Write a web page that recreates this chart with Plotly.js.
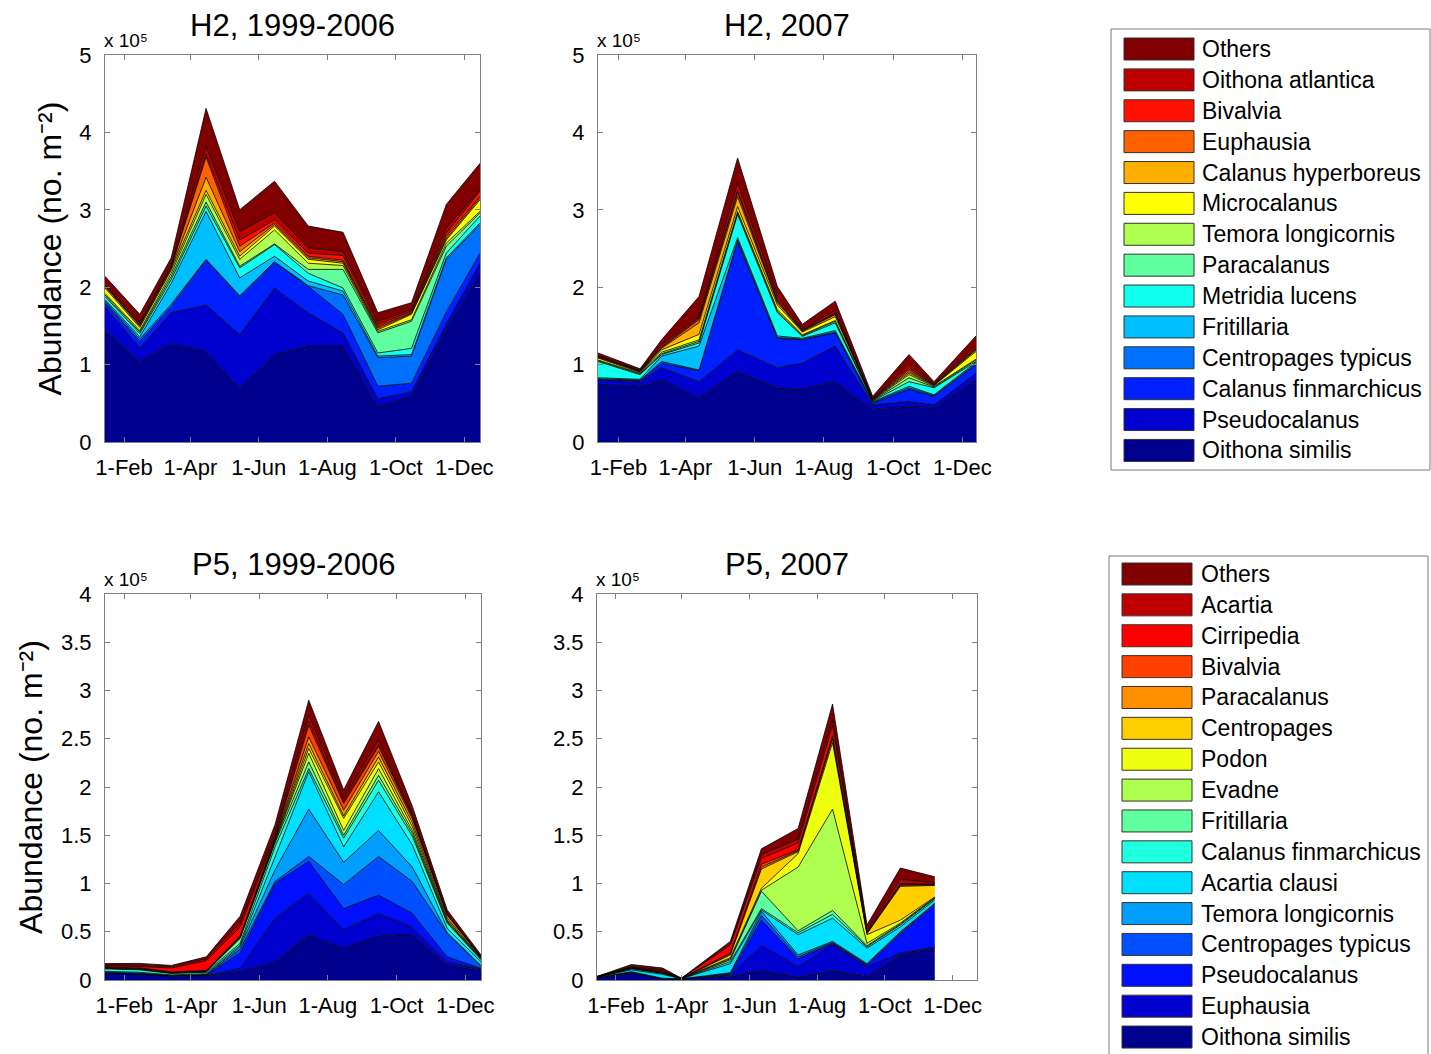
<!DOCTYPE html>
<html><head><meta charset="utf-8">
<script src="https://cdn.plot.ly/plotly-3.0.1.min.js"></script>
<style>html,body{margin:0;padding:0;background:#fff}</style>
</head><body>
<div id="chart" style="width:1431px;height:1054px"></div>
<script>
// ---------------- DATA (abundance in units of 10^5 individuals m^-2) ----------------
// Species order: bottom layer first
const H2_SPECIES = ['Oithona similis','Pseudocalanus','Calanus finmarchicus','Centropages typicus',
  'Fritillaria','Metridia lucens','Paracalanus','Temora longicornis','Microcalanus',
  'Calanus hyperboreus','Euphausia','Bivalvia','Oithona atlantica','Others'];
const P5_SPECIES = ['Oithona similis','Euphausia','Pseudocalanus','Centropages typicus',
  'Temora longicornis','Acartia clausi','Calanus finmarchicus','Fritillaria','Evadne','Podon',
  'Centropages','Paracalanus','Bivalvia','Cirripedia','Acartia','Others'];

// sampling dates as day of year
const DAYS_CLIM = [15, 46, 74, 105, 135, 166, 196, 227, 258, 288, 319, 349];   // monthly climatology 1999-2006
const DAYS_H2_2007 = [14, 51, 70, 103, 137, 172, 194, 223, 256, 288, 310, 347];
const DAYS_P5_2007 = [15, 46, 74, 91, 135, 163, 196, 227, 258, 288, 319];

// month tick labels
const TICK_DAYS = [32, 91, 152, 213, 274, 335];
const TICK_LABELS = ['1-Feb', '1-Apr', '1-Jun', '1-Aug', '1-Oct', '1-Dec'];

// H2, 1999-2006 (rows follow H2_SPECIES)
const H2_CLIM = [
  [1.45, 1.04, 1.27, 1.17, 0.70, 1.13, 1.24, 1.24, 0.46, 0.59, 1.45, 2.18], // Oithona similis
  [0.30, 0.18, 0.40, 0.60, 0.69, 0.86, 0.43, 0.17, 0.10, 0.06, 0.08, 0.13], // Pseudocalanus
  [0.05, 0.08, 0.08, 0.58, 0.49, 0.33, 0.34, 0.24, 0.16, 0.11, 0.15, 0.13], // Calanus finmarchicus
  [0.02, 0.03, 0.03, 0.01, 0.01, 0.01, 0.01, 0.25, 0.37, 0.35, 0.68, 0.37], // Centropages typicus
  [0.02, 0.03, 0.27, 0.62, 0.23, 0.07, 0.06, 0.05, 0.02, 0.02, 0.02, 0.02], // Fritillaria
  [0.04, 0.04, 0.05, 0.07, 0.13, 0.15, 0.10, 0.04, 0.04, 0.08, 0.06, 0.09], // Metridia lucens
  [0.02, 0.02, 0.04, 0.05, 0.02, 0.01, 0.05, 0.24, 0.26, 0.35, 0.09, 0.04], // Paracalanus
  [0.02, 0.02, 0.04, 0.10, 0.09, 0.18, 0.08, 0.05, 0.02, 0.02, 0.04, 0.02], // Temora longicornis
  [0.07, 0.04, 0.04, 0.05, 0.04, 0.05, 0.05, 0.03, 0.02, 0.07, 0.04, 0.15], // Microcalanus
  [0.02, 0.02, 0.02, 0.17, 0.06, 0.02, 0.02, 0.02, 0.02, 0.01, 0.02, 0.02], // Calanus hyperboreus
  [0.01, 0.01, 0.02, 0.26, 0.07, 0.02, 0.02, 0.02, 0.02, 0.01, 0.03, 0.02], // Euphausia
  [0.01, 0.01, 0.01, 0.04, 0.08, 0.04, 0.04, 0.06, 0.03, 0.02, 0.04, 0.07], // Bivalvia
  [0.02, 0.02, 0.03, 0.10, 0.11, 0.09, 0.07, 0.05, 0.04, 0.02, 0.06, 0.02], // Oithona atlantica
  [0.09, 0.11, 0.08, 0.49, 0.28, 0.41, 0.28, 0.25, 0.11, 0.09, 0.31, 0.34]  // Others
];

// H2, 2007
const H2_2007 = [
  [0.74, 0.72, 0.805, 0.57, 0.91, 0.70, 0.685, 0.78, 0.42, 0.46, 0.44, 0.805],
  [0.06, 0.06, 0.155, 0.21, 0.28, 0.26, 0.335, 0.46, 0.06, 0.065, 0.04, 0.085],
  [0.01, 0.01, 0.06, 0.14, 1.40, 0.38, 0.30, 0.17, 0.02, 0.155, 0.11, 0.11],
  [0.005, 0.01, 0.02, 0.01, 0.02, 0.01, 0.01, 0.01, 0.01, 0.02, 0.01, 0.01],
  [0.015, 0.01, 0.07, 0.31, 0.03, 0.02, 0.01, 0.02, 0.01, 0.02, 0.01, 0.02],
  [0.21, 0.06, 0.02, 0.04, 0.30, 0.30, 0.025, 0.10, 0.01, 0.06, 0.09, 0.01],
  [0.01, 0.01, 0.01, 0.02, 0.02, 0.02, 0.01, 0.02, 0.005, 0.05, 0.01, 0.02],
  [0.01, 0.01, 0.02, 0.02, 0.02, 0.02, 0.01, 0.01, 0.005, 0.04, 0.01, 0.01],
  [0.025, 0.01, 0.03, 0.07, 0.06, 0.06, 0.035, 0.05, 0.005, 0.02, 0.01, 0.10],
  [0.01, 0.01, 0.02, 0.15, 0.13, 0.03, 0.01, 0.025, 0.005, 0.02, 0.005, 0.02],
  [0.005, 0.005, 0.01, 0.04, 0.05, 0.02, 0.01, 0.01, 0.003, 0.025, 0.005, 0.01],
  [0.005, 0.005, 0.01, 0.02, 0.02, 0.01, 0.005, 0.01, 0.003, 0.025, 0.005, 0.01],
  [0.01, 0.005, 0.03, 0.02, 0.11, 0.05, 0.015, 0.035, 0.004, 0.04, 0.01, 0.03],
  [0.035, 0.02, 0.06, 0.26, 0.32, 0.13, 0.06, 0.12, 0.03, 0.13, 0.025, 0.13]
];

// P5, 1999-2006 (rows follow P5_SPECIES)
const P5_CLIM = [
  [0.07, 0.06, 0.04, 0.045, 0.086, 0.19, 0.47, 0.33, 0.46, 0.47, 0.155, 0.10], // Oithona similis
  [0.002, 0.002, 0.002, 0.003, 0.034, 0.45, 0.43, 0.19, 0.23, 0.08, 0.035, 0.01], // Euphausia
  [0.002, 0.002, 0.002, 0.003, 0.16, 0.36, 0.33, 0.22, 0.19, 0.14, 0.05, 0.01], // Pseudocalanus
  [0.003, 0.003, 0.002, 0.003, 0.04, 0.02, 0.05, 0.25, 0.40, 0.33, 0.24, 0.02], // Centropages typicus
  [0.003, 0.003, 0.002, 0.003, 0.025, 0.12, 0.49, 0.23, 0.27, 0.15, 0.01, 0.01], // Temora longicornis
  [0.01, 0.01, 0.005, 0.008, 0.015, 0.14, 0.39, 0.16, 0.40, 0.23, 0.045, 0.04], // Acartia clausi
  [0.025, 0.025, 0.015, 0.015, 0.02, 0.10, 0.03, 0.09, 0.12, 0.09, 0.055, 0.02], // Calanus finmarchicus
  [0.005, 0.005, 0.004, 0.005, 0.05, 0.04, 0.07, 0.03, 0.05, 0.03, 0.01, 0.005], // Fritillaria
  [0.002, 0.002, 0.002, 0.002, 0.005, 0.01, 0.09, 0.05, 0.07, 0.03, 0.01, 0.005], // Evadne
  [0.002, 0.002, 0.002, 0.002, 0.005, 0.01, 0.05, 0.125, 0.07, 0.04, 0.01, 0.005], // Podon
  [0.003, 0.003, 0.002, 0.003, 0.005, 0.01, 0.05, 0.025, 0.05, 0.04, 0.02, 0.005], // Centropages
  [0.003, 0.003, 0.002, 0.003, 0.005, 0.01, 0.07, 0.06, 0.06, 0.04, 0.03, 0.005], // Paracalanus
  [0.005, 0.005, 0.004, 0.005, 0.005, 0.01, 0.12, 0.07, 0.05, 0.02, 0.005, 0.005], // Bivalvia
  [0.01, 0.015, 0.04, 0.10, 0.095, 0.02, 0.04, 0.02, 0.02, 0.01, 0.005, 0.003], // Cirripedia
  [0.01, 0.012, 0.015, 0.02, 0.04, 0.03, 0.07, 0.03, 0.05, 0.01, 0.01, 0.003], // Acartia
  [0.015, 0.02, 0.012, 0.02, 0.07, 0.09, 0.15, 0.09, 0.19, 0.09, 0.035, 0.014]  // Others
];

// P5, 2007
const P5_2007 = [
  [0.02, 0.07, 0.01, 0.01, 0.035, 0.10, 0.03, 0.10, 0.035, 0.26, 0.33],
  [0.003, 0.005, 0.002, 0.001, 0.015, 0.26, 0.11, 0.27, 0.105, 0.02, 0.01],
  [0.002, 0.005, 0.002, 0.001, 0.01, 0.26, 0.08, 0.01, 0.015, 0.20, 0.44],
  [0.001, 0.003, 0.002, 0.0005, 0.01, 0.05, 0.02, 0.01, 0.005, 0.01, 0.01],
  [0.001, 0.003, 0.002, 0.0005, 0.005, 0.04, 0.02, 0.01, 0.01, 0.01, 0.005],
  [0.002, 0.02, 0.04, 0.001, 0.095, 0.015, 0.21, 0.24, 0.16, 0.05, 0.035],
  [0.001, 0.01, 0.01, 0.0005, 0.02, 0.015, 0.02, 0.04, 0.015, 0.02, 0.015],
  [0.001, 0.004, 0.004, 0.0005, 0.02, 0.18, 0.02, 0.04, 0.01, 0.01, 0.005],
  [0.001, 0.002, 0.002, 0.0005, 0.01, 0.01, 0.66, 1.05, 0.025, 0.01, 0.005],
  [0.001, 0.002, 0.002, 0.0005, 0.01, 0.02, 0.14, 0.69, 0.09, 0.03, 0.005],
  [0.001, 0.002, 0.002, 0.0005, 0.03, 0.20, 0.02, 0.04, 0.01, 0.35, 0.12],
  [0.001, 0.003, 0.003, 0.0003, 0.01, 0.02, 0.01, 0.01, 0.005, 0.01, 0.005],
  [0.0005, 0.002, 0.003, 0.0003, 0.01, 0.03, 0.01, 0.02, 0.005, 0.01, 0.005],
  [0.0005, 0.004, 0.01, 0.0005, 0.08, 0.06, 0.07, 0.11, 0.01, 0.01, 0.005],
  [0.0005, 0.005, 0.01, 0.0005, 0.02, 0.04, 0.04, 0.06, 0.02, 0.04, 0.015],
  [0.0005, 0.02, 0.02, 0.0005, 0.02, 0.06, 0.11, 0.16, 0.05, 0.12, 0.06]
];

// ---------------- STYLE ----------------
const H2_COLORS = ['rgb(0,0,143)','rgb(0,0,207)','rgb(0,32,255)','rgb(0,112,255)','rgb(0,191,255)',
  'rgb(16,255,239)','rgb(96,255,159)','rgb(175,255,80)','rgb(255,255,0)','rgb(255,175,0)',
  'rgb(255,96,0)','rgb(255,16,0)','rgb(191,0,0)','rgb(128,0,0)'];
const P5_COLORS = ['rgb(0,0,143)','rgb(0,0,207)','rgb(0,16,255)','rgb(0,80,255)','rgb(0,159,255)',
  'rgb(0,223,255)','rgb(32,255,223)','rgb(96,255,159)','rgb(175,255,80)','rgb(239,255,16)',
  'rgb(255,207,0)','rgb(255,143,0)','rgb(255,64,0)','rgb(255,0,0)','rgb(191,0,0)','rgb(128,0,0)'];

const FONT = 'Liberation Sans, Arial, Helvetica, sans-serif';
const W = 1431, H = 1054;
const px = v => v / W, py = v => 1 - v / H;
const AXC = '#808080';

const panels = [
  {title:'H2, 1999-2006', species:H2_SPECIES, colors:H2_COLORS, days:DAYS_CLIM, vals:H2_CLIM,
   ax:'', xd:[105,480], yd:[55,442], xr:[15,349], yr:[0,5], ylabel:true, ty:26},
  {title:'H2, 2007', species:H2_SPECIES, colors:H2_COLORS, days:DAYS_H2_2007, vals:H2_2007,
   ax:'2', xd:[598,976], yd:[55,442], xr:[14,347], yr:[0,5], ylabel:false, ty:26},
  {title:'P5, 1999-2006', species:P5_SPECIES, colors:P5_COLORS, days:DAYS_CLIM, vals:P5_CLIM,
   ax:'3', xd:[105,481], yd:[594,980], xr:[15,349], yr:[0,4], ylabel:true, ty:564},
  {title:'P5, 2007', species:P5_SPECIES, colors:P5_COLORS, days:DAYS_P5_2007, vals:P5_2007,
   ax:'4', xd:[597,977], yd:[594,980], xr:[15,357], yr:[0,4], ylabel:false, ty:564}
];

const traces = [];
const layout = {
  width: W, height: H, margin:{l:0,r:0,t:0,b:0},
  paper_bgcolor:'#fff', plot_bgcolor:'#fff', showlegend:false,
  font:{family:FONT, color:'#000'},
  annotations:[], shapes:[]
};

panels.forEach((p, k) => {
  p.species.forEach((name, i) => {
    traces.push({
      type:'scatter', mode:'lines', name:name,
      x:p.days, y:p.vals[i],
      stackgroup:'g'+k, fillcolor:p.colors[i],
      line:{color:'#000', width:0.8},
      xaxis:'x'+p.ax, yaxis:'y'+p.ax, hoverinfo:'skip'
    });
  });
  const five = p.yr[1] === 5;
  const yt = five ? [0,1,2,3,4,5] : [0,0.5,1,1.5,2,2.5,3,3.5,4];
  layout['xaxis'+p.ax] = {
    domain:[px(p.xd[0]), px(p.xd[1])], range:p.xr, anchor:'y'+p.ax,
    tickvals:TICK_DAYS, ticktext:TICK_LABELS,
    ticks:'inside', ticklen:5, tickcolor:AXC, tickwidth:1,
    showline:true, linecolor:AXC, linewidth:1, mirror:'ticks',
    showgrid:false, zeroline:false, ticklabelstandoff:6,
    tickfont:{family:FONT, size:22, color:'#000'}, fixedrange:true
  };
  const ya = {
    domain:[py(p.yd[1]), py(p.yd[0])], range:p.yr, anchor:'x'+p.ax,
    tickvals:yt, ticktext:yt.map(String),
    ticks:'inside', ticklen:5, tickcolor:AXC, tickwidth:1,
    showline:true, linecolor:AXC, linewidth:1, mirror:'ticks',
    showgrid:false, zeroline:false, ticklabelstandoff:8,
    tickfont:{family:FONT, size:22, color:'#000'}, fixedrange:true
  };
  if (p.ylabel) {
    ya.title = {text:'Abundance (no. m\u207B\u00B2)', font:{family:FONT, size:32, color:'#000'}, standoff:8};
  }
  layout['yaxis'+p.ax] = ya;
  layout.annotations.push({
    xref:'paper', yref:'paper', x:px((p.xd[0]+p.xd[1])/2), y:py(p.ty),
    xanchor:'center', yanchor:'middle', showarrow:false,
    text:p.title, font:{family:FONT, size:31, color:'#000'}
  });
  layout.annotations.push({
    xref:'paper', yref:'paper', x:px(p.xd[0]-3), y:py(p.yd[0]-15),
    xanchor:'left', yanchor:'middle', showarrow:false,
    text:'x 10\u2075', font:{family:FONT, size:19, color:'#000'}
  });
});

// ---------------- LEGENDS (drawn as boxes + text from species/colour lists) ----------------
function addLegend(species, colors, box, firstY, pitch, swX, txtX) {
  layout.shapes.push({type:'rect', xref:'paper', yref:'paper', layer:'above',
    x0:px(box[0]), x1:px(box[2]), y0:py(box[1]), y1:py(box[3]),
    line:{color:'#7a7a7a', width:1}, fillcolor:'rgba(0,0,0,0)'});
  const n = species.length;
  for (let j = 0; j < n; j++) {
    const i = n - 1 - j;           // top of legend = top of stack
    const cy = firstY + j * pitch;
    layout.shapes.push({type:'rect', xref:'paper', yref:'paper', layer:'above',
      x0:px(swX[0]), x1:px(swX[1]), y0:py(cy+11), y1:py(cy-11),
      line:{color:'#333', width:1}, fillcolor:colors[i]});
    layout.annotations.push({xref:'paper', yref:'paper', x:px(txtX), y:py(cy),
      xanchor:'left', yanchor:'middle', showarrow:false, text:species[i],
      font:{family:FONT, size:23, color:'#000'}});
  }
}
addLegend(H2_SPECIES, H2_COLORS, [1111, 29, 1430, 470], 49, 30.88, [1124, 1194], 1200);
addLegend(P5_SPECIES, P5_COLORS, [1109, 556, 1428, 1060], 574, 30.87, [1122, 1192], 1199);

Plotly.newPlot('chart', traces, layout, {displayModeBar:false, staticPlot:true});
</script>
</body></html>
